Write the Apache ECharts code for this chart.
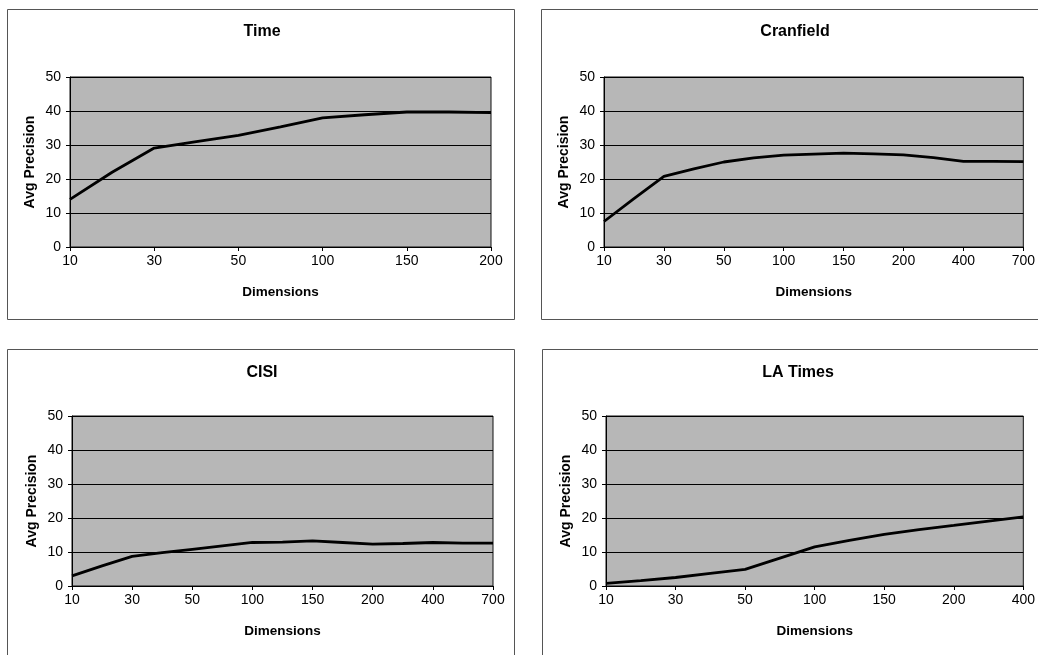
<!DOCTYPE html>
<html>
<head>
<meta charset="utf-8">
<script src="https://cdn.jsdelivr.net/npm/echarts@6/dist/echarts.min.js"></script>
<style>
html,body{margin:0;padding:0;background:#fff;}
#c{width:1038px;height:655px;}
</style>
</head>
<body>
<div id="c"></div>
<script>
// Dimension categories (only every other one is labelled on the axis)
const dimsTime = ['10','20','30','40','50','75','100','125','150','175','200'];
const dimsCranfield = ['10','20','30','40','50','75','100','125','150','175','200','300','400','500','700'];
const dimsCISI = ['10','20','30','40','50','75','100','125','150','175','200','300','400','500','700'];
const dimsLATimes = ['10','20','30','40','50','75','100','125','150','175','200','300','400'];

// Average precision values
const precTime = [14, 22, 29.1, 31, 32.8, 35.3, 38, 38.9, 39.7, 39.7, 39.5];
const precCranfield = [7.5, 14.2, 20.8, 23, 25, 26.2, 27, 27.3, 27.6, 27.4, 27.1, 26.3, 25.2, 25.2, 25.1];
const precCISI = [3, 5.9, 8.7, 9.8, 10.8, 11.8, 12.8, 12.9, 13.3, 12.8, 12.3, 12.5, 12.8, 12.6, 12.6];
const precLATimes = [0.8, 1.6, 2.5, 3.7, 4.9, 8.2, 11.5, 13.4, 15.2, 16.6, 17.8, 19.1, 20.3];

const titles = ['Time', 'Cranfield', 'CISI', 'LA Times'];
const yTicks = { min: 0, max: 50, interval: 10 };
const yName = 'Avg Precision';
const xName = 'Dimensions';

const FONT = '"Liberation Sans", Arial, sans-serif';
const panels = [
  { dims: dimsTime, vals: precTime, grid: {left: 70, top: 77, width: 421, height: 170}, box: [7, 9, 507, 310], titleX: 262, titleY: 32 },
  { dims: dimsCranfield, vals: precCranfield, grid: {left: 604, top: 77, width: 420, height: 170}, box: [541, 9, 520, 310], titleX: 795, titleY: 32 },
  { dims: dimsCISI, vals: precCISI, grid: {left: 72, top: 416, width: 421, height: 170}, box: [7, 349, 507, 320], titleX: 262, titleY: 373 },
  { dims: dimsLATimes, vals: precLATimes, grid: {left: 606, top: 416, width: 421, height: 170}, box: [542, 349, 520, 320], titleX: 798, titleY: 373 }
];

const grid = [], xAxis = [], yAxis = [], series = [], graphic = [];
panels.forEach((p, i) => {
  graphic.push({
    type: 'rect', silent: true, z: -10,
    shape: { x: p.box[0] + 0.5, y: p.box[1] + 0.5, width: p.box[2], height: p.box[3] },
    style: { fill: '#fff', stroke: '#555', lineWidth: 1 }
  });
  graphic.push({
    type: 'text', silent: true,
    x: p.titleX, y: p.titleY,
    style: { text: titles[i], font: 'bold 16px ' + FONT, fill: '#000', align: 'center', verticalAlign: 'middle' }
  });
  grid.push(Object.assign({ show: true, backgroundColor: '#b7b7b7', borderColor: '#111', borderWidth: 1, containLabel: false }, p.grid));
  xAxis.push({
    type: 'category', gridIndex: i, data: p.dims, boundaryGap: false,
    name: xName, nameLocation: 'middle', nameGap: 38,
    nameTextStyle: { fontFamily: FONT, fontWeight: 'bold', fontSize: 13.5, color: '#000' },
    axisLine: { lineStyle: { color: '#000', width: 1 } },
    axisTick: { show: true, interval: 1, length: 4, lineStyle: { color: '#000' } },
    axisLabel: { interval: 1, margin: 7, fontFamily: FONT, fontSize: 14, color: '#000' },
    splitLine: { show: false }
  });
  yAxis.push({
    type: 'value', gridIndex: i, min: yTicks.min, max: yTicks.max, interval: yTicks.interval,
    name: yName, nameLocation: 'middle', nameGap: 33,
    nameTextStyle: { fontFamily: FONT, fontWeight: 'bold', fontSize: 14, color: '#000' },
    axisLine: { show: true, lineStyle: { color: '#000', width: 1 } },
    axisTick: { show: true, length: 4, lineStyle: { color: '#000' } },
    axisLabel: { margin: 9, fontFamily: FONT, fontSize: 14, color: '#000' },
    splitLine: { show: true, lineStyle: { color: '#000', width: 1 } }
  });
  series.push({
    type: 'line', xAxisIndex: i, yAxisIndex: i, data: p.vals,
    showSymbol: false, symbol: 'none', smooth: false,
    lineStyle: { color: '#000', width: 2.8 }, z: 5
  });
});

const chart = echarts.init(document.getElementById('c'), null, { renderer: 'canvas' });
chart.setOption({
  animation: false,
  backgroundColor: '#fff',
  graphic: graphic,
  grid: grid, xAxis: xAxis, yAxis: yAxis, series: series
});
</script>
</body>
</html>
